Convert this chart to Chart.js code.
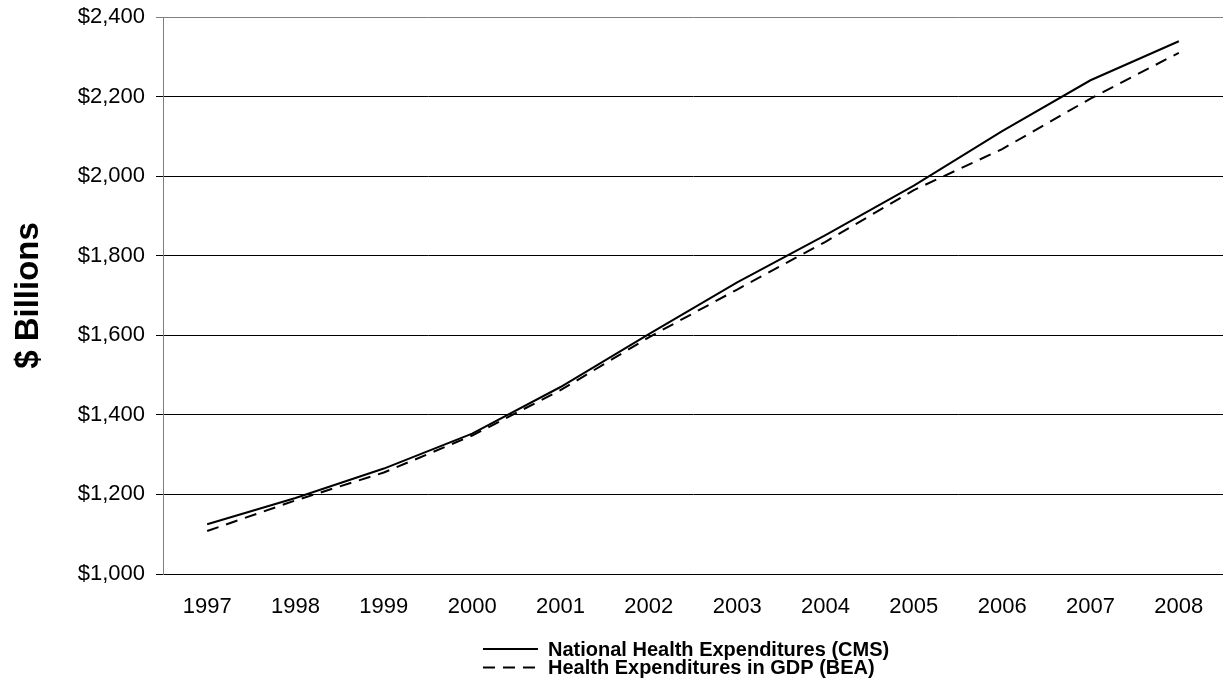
<!DOCTYPE html>
<html>
<head>
<meta charset="utf-8">
<script src="https://cdn.jsdelivr.net/npm/chart.js@4"></script>
<style>
    html, body { margin: 0; padding: 0; background: #fff; }
    #wrap { position: relative; width: 1223px; height: 683px; }
</style>
</head>
<body>
<div id="wrap"><canvas id="nheChart"></canvas></div>
<script>
const years = ['1997', '1998', '1999', '2000', '2001', '2002', '2003', '2004', '2005', '2006', '2007', '2008'];
const cmsSpending = [1125, 1191, 1265, 1353, 1470, 1603, 1733, 1852, 1976, 2113, 2241, 2339];
const beaSpending = [1108, 1185, 1255, 1348, 1462, 1595, 1715, 1835, 1965, 2068, 2195, 2310];
const seriesNames = ['National Health Expenditures (CMS)', 'Health Expenditures in GDP (BEA)'];
const yMin = 1000, yMax = 2400, yStep = 200;

Chart.defaults.font.family = 'Arial, "Liberation Sans", sans-serif';
Chart.defaults.color = '#000';

// two stacked legend rows, left aligned, drawn under the axis
const stackedLegend = {
    id: 'stackedLegend',
    afterDraw(chart) {
        const ctx = chart.ctx;
        const x0 = 483, lineLen = 55, gap = 10;
        ctx.save();
        ctx.font = 'bold 20px Arial, "Liberation Sans", sans-serif';
        ctx.textBaseline = 'middle';
        ctx.fillStyle = '#000';
        chart.data.datasets.forEach((ds, i) => {
            const y = 649 + i * 18.5;
            ctx.strokeStyle = '#000';
            ctx.lineWidth = 2;
            ctx.setLineDash(ds.borderDash || []);
            ctx.beginPath();
            ctx.moveTo(x0, y);
            ctx.lineTo(x0 + lineLen, y);
            ctx.stroke();
            ctx.setLineDash([]);
            ctx.fillText(ds.label, x0 + lineLen + gap, y + 1);
        });
        ctx.restore();
    }
};

new Chart(document.getElementById('nheChart'), {
    type: 'line',
    data: {
        labels: years,
        datasets: [
            {
                label: seriesNames[0],
                data: cmsSpending,
                borderColor: '#000',
                borderWidth: 2,
                pointRadius: 0,
                tension: 0
            },
            {
                label: seriesNames[1],
                data: beaSpending,
                borderColor: '#000',
                borderWidth: 2,
                borderDash: [12, 8],
                pointRadius: 0,
                tension: 0
            }
        ]
    },
    options: {
        responsive: true,
        maintainAspectRatio: false,
        animation: false,
        layout: { padding: { top: 17, right: 0, bottom: 0, left: 0 } },
        plugins: {
            legend: { display: false },
            tooltip: { enabled: false }
        },
        scales: {
            x: {
                offset: true,
                grid: { display: false, drawTicks: false },
                border: { display: true, color: '#000', width: 1 },
                ticks: { font: { size: 22 }, padding: 20, maxRotation: 0 },
                afterFit: s => { s.height = 109; s.paddingLeft = 0; s.paddingRight = 0; }
            },
            y: {
                min: yMin,
                max: yMax,
                ticks: {
                    stepSize: yStep,
                    font: { size: 22 },
                    padding: 11,
                    callback: v => '$' + v.toLocaleString('en-US')
                },
                grid: {
                    color: c => (c.tick && c.tick.value === yMax ? '#808080' : '#000'),
                    tickColor: c => (c.tick && c.tick.value === yMax ? '#808080' : '#000'),
                    tickLength: 7,
                    lineWidth: 1
                },
                border: { color: '#808080', width: 1 },
                title: {
                    display: true,
                    text: '$ Billions',
                    font: { size: 33, weight: 'bold' },
                    padding: { top: 9, bottom: 0 }
                },
                afterFit: s => { s.width = 163; s.paddingTop = 0; s.paddingBottom = 0; }
            }
        }
    },
    plugins: [stackedLegend]
});
</script>
</body>
</html>
